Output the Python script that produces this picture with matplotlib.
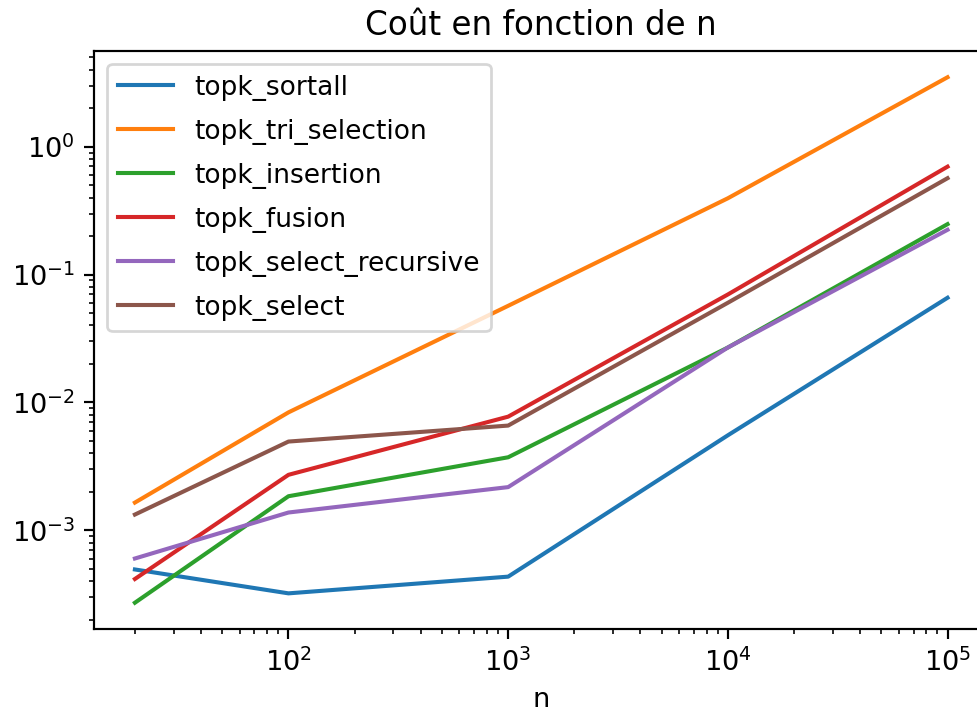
import matplotlib
matplotlib.use("Agg")
import matplotlib.pyplot as plt

# Data ##################################################
n = [20, 100, 1000, 10000, 100000]

topk_sortall = [4.95e-4, 3.22e-4, 4.35e-4, 5.54e-3, 0.0659]
topk_tri_selection = [1.65e-3, 8.37e-3, 0.057, 0.395, 3.49]
topk_insertion = [2.72e-4, 1.85e-3, 3.73e-3, 0.0269, 0.248]
topk_fusion = [4.17e-4, 2.72e-3, 7.75e-3, 0.0699, 0.698]
topk_select_recursive = [6.03e-4, 1.38e-3, 2.18e-3, 0.0269, 0.224]
topk_select = [1.33e-3, 4.95e-3, 6.6e-3, 0.0602, 0.567]

series = [
    ("topk_sortall", topk_sortall),
    ("topk_tri_selection", topk_tri_selection),
    ("topk_insertion", topk_insertion),
    ("topk_fusion", topk_fusion),
    ("topk_select_recursive", topk_select_recursive),
    ("topk_select", topk_select),
]

# Plot ##################################################
DPI = 196
fig = plt.figure(figsize=(978 / DPI, 721 / DPI), dpi=DPI)
# the source image is cropped on the right, so the axes run past the edge
ax = fig.add_axes([0.0964, 0.1276, 0.914, 0.8017])

for label, vals in series:
    ax.plot(n, vals, label=label)

ax.set_xscale("log")
ax.set_yscale("log")
ax.set_xlabel("n")
ax.set_title("Coût en fonction de n")
ax.legend(loc="upper left", fontsize=9.7, labelspacing=0.68, handlelength=2.1)

fig.savefig("out.png", dpi=DPI)
